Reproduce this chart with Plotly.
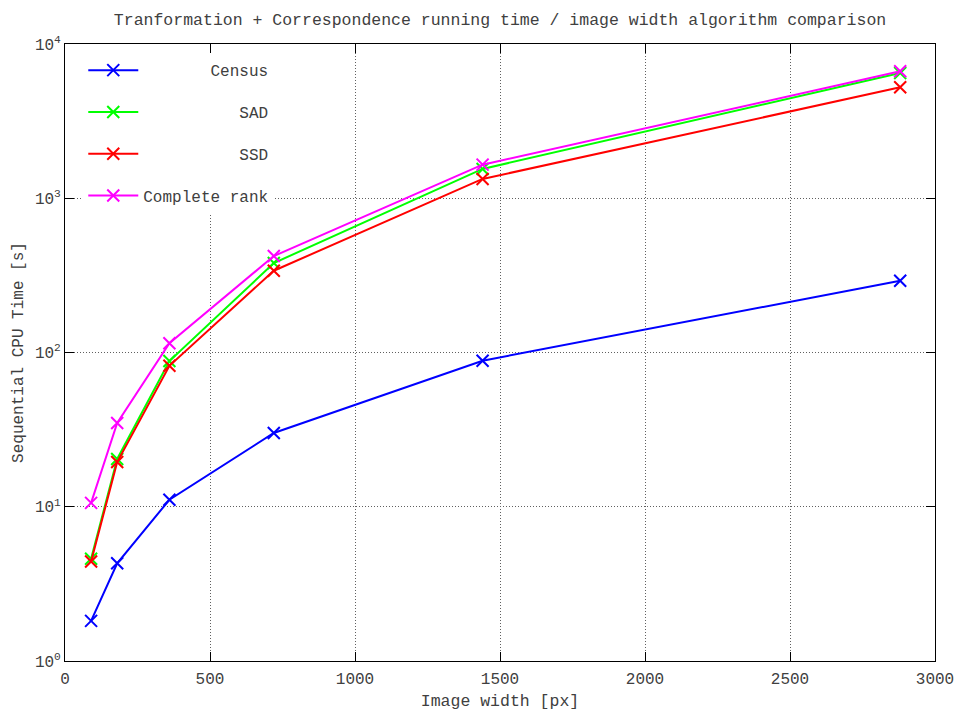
import plotly.graph_objects as go

# Image widths used in the benchmark (px)
widths = [90, 180, 360, 720, 1440, 2880]

# Sequential CPU time per algorithm (s)
census = [1.82, 4.30, 11.1, 30.1, 88.5, 292]
sad = [4.6, 20.4, 88, 380, 1549, 6486]
ssd = [4.42, 19.5, 82, 339, 1334, 5237]
complete_rank = [10.6, 34.9, 114.8, 422, 1651, 6652]

series_names = ["Census", "SAD", "SSD", "Complete rank"]
series_values = [census, sad, ssd, complete_rank]
series_colors = ["#0000ff", "#00ff00", "#ff0000", "#ff00ff"]

x_ticks = [0, 500, 1000, 1500, 2000, 2500, 3000]
y_ticks = [1, 10, 100, 1000, 10000]
y_tick_text = ["10<sup>0</sup>", "10<sup>1</sup>", "10<sup>2</sup>", "10<sup>3</sup>", "10<sup>4</sup>"]

FONT = "Liberation Mono, DejaVu Sans Mono, monospace"
TEXT_COLOR = "#404040"

# right-align legend labels inside the monospace legend
longest = max(len(n) for n in series_names)

fig = go.Figure()
for name, vals, color in zip(series_names, series_values, series_colors):
    label = "\u00a0" * (longest - len(name)) + name
    fig.add_trace(go.Scatter(
        x=widths, y=vals, name=label, mode="lines+markers",
        legendgroup=name,
        line=dict(color=color, width=2),
        marker=dict(symbol="x-thin", size=12, line=dict(color=color, width=2)),
    ))

axis_common = dict(
    showline=True, linecolor="black", linewidth=1, mirror="ticks",
    ticks="inside", ticklen=9, tickcolor="black", tickwidth=1,
    showgrid=True, gridcolor="#606060", griddash="1px,2px", gridwidth=1,
    zeroline=False, automargin=False,
    tickfont=dict(family=FONT, size=16, color=TEXT_COLOR),
)

fig.update_xaxes(
    range=[0, 3000], tickvals=x_ticks, ticklabelstandoff=3,
    title=dict(text="Image width [px]", font=dict(family=FONT, size=16.5, color=TEXT_COLOR), standoff=17),
    **axis_common,
)
fig.update_yaxes(
    type="log", range=[0, 4], tickvals=y_ticks, ticktext=y_tick_text,
    title=dict(text="Sequential CPU Time [s]", font=dict(family=FONT, size=16, color=TEXT_COLOR), standoff=7),
    **axis_common,
)

fig.update_layout(
    width=957, height=711,
    margin=dict(l=65, r=22, t=44, b=50),
    paper_bgcolor="white", plot_bgcolor="white",
    title=dict(
        text="Tranformation + Correspondence running time / image width algorithm comparison",
        font=dict(family=FONT, size=16.5, color=TEXT_COLOR),
        x=0.5225, xanchor="center", y=0.973, yanchor="middle",
    ),
    legend=dict(
        x=0.021, y=0.985, xanchor="left", yanchor="top",
        bgcolor="white", borderwidth=0,
        font=dict(family=FONT, size=16, color=TEXT_COLOR),
        tracegroupgap=18, itemwidth=50,
    ),
    showlegend=True,
)

fig.write_html("out.html")
